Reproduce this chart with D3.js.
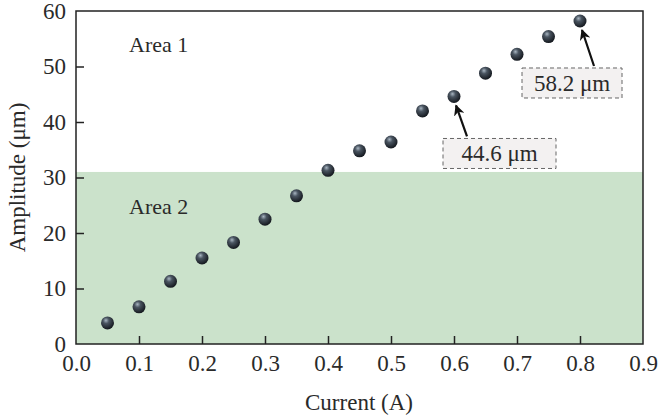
<!DOCTYPE html>
<html>
<head>
<meta charset="utf-8">
<script src="https://cdn.jsdelivr.net/npm/d3@7"></script>
<style>
  body { margin: 0; background: #fff; }
  text { font-family: "Liberation Serif", "Times New Roman", serif; fill: #2a2a2a; }
</style>
</head>
<body>
<div id="chart"></div>
<script>
  const currents = [0.05, 0.1, 0.15, 0.2, 0.25, 0.3, 0.35, 0.4, 0.45, 0.5, 0.55, 0.6, 0.65, 0.7, 0.75, 0.8];
  const amplitudes = [3.8, 6.7, 11.3, 15.5, 18.3, 22.5, 26.7, 31.3, 34.8, 36.4, 42.0, 44.6, 48.8, 52.2, 55.4, 58.2];
  const xTicks = [0, 0.1, 0.2, 0.3, 0.4, 0.5, 0.6, 0.7, 0.8, 0.9];
  const yTicks = [0, 10, 20, 30, 40, 50, 60];
  const area2Top = 31;
  const callouts = [
    { x: 0.8, y: 58.2, label: '58.2 μm' },
    { x: 0.6, y: 44.6, label: '44.6 μm' },
  ];

  const width = 658;
  const height = 417;
  const margin = { top: 11, right: 15, bottom: 73, left: 76 };
  const usableArea = {
    top: margin.top,
    right: width - margin.right,
    bottom: height - margin.bottom,
    left: margin.left,
    width: width - margin.left - margin.right,
    height: height - margin.top - margin.bottom,
  };

  const svg = d3.select('#chart').append('svg')
    .attr('width', width)
    .attr('height', height);

  const defs = svg.append('defs');
  const grad = defs.append('radialGradient')
    .attr('id', 'ball')
    .attr('cx', '40%').attr('cy', '35%').attr('r', '65%')
    .attr('fx', '38%').attr('fy', '30%');
  grad.append('stop').attr('offset', '0%').attr('stop-color', '#a9b6c2');
  grad.append('stop').attr('offset', '35%').attr('stop-color', '#4a5561');
  grad.append('stop').attr('offset', '100%').attr('stop-color', '#14181e');

  const marker = defs.append('marker')
    .attr('id', 'arrow')
    .attr('viewBox', '0 0 10 10')
    .attr('refX', 9).attr('refY', 5)
    .attr('markerWidth', 5).attr('markerHeight', 5)
    .attr('orient', 'auto');
  marker.append('path').attr('d', 'M0,0L10,5L0,10L3,5Z').attr('fill', '#111');

  const xScale = d3.scaleLinear().domain([0, 0.9]).range([usableArea.left, usableArea.right]);
  const yScale = d3.scaleLinear().domain([0, 60]).range([usableArea.bottom, usableArea.top]);

  // green band for Area 2
  svg.append('rect')
    .attr('x', usableArea.left)
    .attr('y', yScale(area2Top))
    .attr('width', usableArea.width)
    .attr('height', yScale(0) - yScale(area2Top))
    .attr('fill', '#cbe2cb');

  // axes, ticks pointing inward
  const xAxis = svg.append('g')
    .attr('transform', `translate(0,${usableArea.bottom})`)
    .call(d3.axisBottom(xScale).tickValues(xTicks).tickFormat(d3.format('.1f')).tickSizeInner(-8).tickSizeOuter(0).tickPadding(11));
  const yAxis = svg.append('g')
    .attr('transform', `translate(${usableArea.left},0)`)
    .call(d3.axisLeft(yScale).tickValues(yTicks).tickSizeInner(-8).tickSizeOuter(0).tickPadding(10));
  [xAxis, yAxis].forEach((g) => {
    g.select('.domain').remove();
    g.selectAll('line').attr('stroke', '#222').attr('stroke-width', 1.5);
    g.selectAll('text').style('font-size', '23px').attr('fill', '#2a2a2a');
  });
  xAxis.selectAll('.tick').filter((d) => d === 0 || d === 0.9).select('line').remove();
  yAxis.selectAll('.tick').filter((d) => d === 0 || d === 60).select('line').remove();

  // frame
  svg.append('rect')
    .attr('x', usableArea.left).attr('y', usableArea.top)
    .attr('width', usableArea.width).attr('height', usableArea.height)
    .attr('fill', 'none').attr('stroke', '#222').attr('stroke-width', 1.5);

  // axis titles
  svg.append('text')
    .attr('x', 359)
    .attr('y', 410)
    .attr('text-anchor', 'middle')
    .style('font-size', '23px')
    .text('Current (A)');
  svg.append('text')
    .attr('transform', `translate(25,${(usableArea.top + usableArea.bottom) / 2}) rotate(-90)`)
    .attr('text-anchor', 'middle')
    .style('font-size', '23px')
    .text('Amplitude (μm)');

  svg.append('text').attr('x', 129).attr('y', 52).style('font-size', '22px').text('Area 1');
  svg.append('text').attr('x', 129).attr('y', 214).style('font-size', '22px').text('Area 2');

  // callouts: dashed box + arrow pointing to the point
  callouts.forEach((c) => {
    const px = xScale(c.x);
    const py = yScale(c.y);
    const top = c.x === 0.8;
    const bw = top ? 100 : 113;
    const bx = top ? px - 58 : px - 11;
    const by = py + (top ? 47 : 42);
    svg.append('rect')
      .attr('x', bx).attr('y', by)
      .attr('width', bw).attr('height', 30)
      .attr('fill', '#f3f1f1')
      .attr('stroke', '#666').attr('stroke-width', 1)
      .attr('stroke-dasharray', '4,3');
    svg.append('text')
      .attr('x', bx + bw / 2).attr('y', by + 23)
      .attr('text-anchor', 'middle')
      .style('font-size', '23px')
      .text(c.label);
    const ax = top ? px + 14 : px + 13;
    svg.append('line')
      .attr('x1', ax).attr('y1', by - 2)
      .attr('x2', px + 2).attr('y2', py + 9)
      .attr('stroke', '#111').attr('stroke-width', 2.2)
      .attr('marker-end', 'url(#arrow)');
  });

  // data points
  svg.append('g')
    .selectAll('circle')
    .data(currents.map((c, i) => ({ x: c, y: amplitudes[i] })))
    .join('circle')
    .attr('cx', (d) => xScale(d.x))
    .attr('cy', (d) => yScale(d.y))
    .attr('r', 6.5)
    .attr('fill', 'url(#ball)');
</script>
</body>
</html>
